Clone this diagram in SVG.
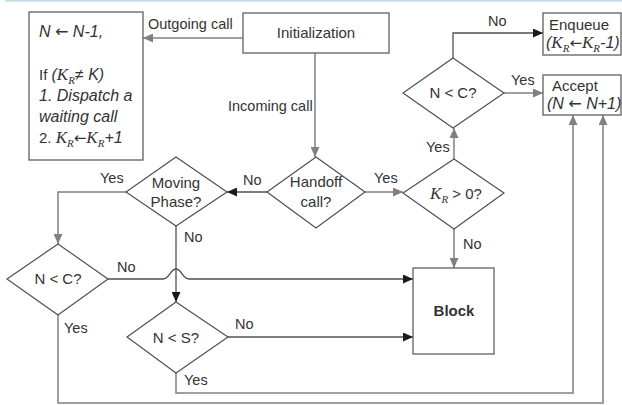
<svg xmlns="http://www.w3.org/2000/svg" width="622" height="405" viewBox="0 0 622 405">
  <defs>
    <style>
      .box { fill: #ffffff; stroke: #606060; stroke-width: 1.3; }
      .dia { fill: #ffffff; stroke: #505050; stroke-width: 1.2; }
      .g { fill: none; stroke: #808080; stroke-width: 1.5; marker-end: url(#ag); }
      .k { fill: none; stroke: #505050; stroke-width: 1.3; marker-end: url(#ak); }
      text { font-family: "Liberation Sans", Arial, sans-serif; fill: #333333; font-size: 15px; }
      .lbl { font-size: 14.5px; }
      .c { text-anchor: middle; }
      .it { font-style: italic; font-size: 16px; }
      .m { font-family: "Liberation Serif", "Times New Roman", serif; font-style: italic; font-size: 17px; }
      .ms { font-family: "Liberation Serif", "Times New Roman", serif; font-style: italic; font-size: 11px; }
      .ar { font-family: "DejaVu Sans", sans-serif; font-style: normal; }
      .b { font-weight: bold; }
    </style>
    <marker id="ag" markerUnits="userSpaceOnUse" markerWidth="10" markerHeight="9" refX="10" refY="4.5" orient="auto">
      <path d="M0,0 L10,4.5 L0,9 z" fill="#808080"/>
    </marker>
    <marker id="ak" markerUnits="userSpaceOnUse" markerWidth="10" markerHeight="9" refX="10" refY="4.5" orient="auto">
      <path d="M0,0 L10,4.5 L0,9 z" fill="#1a1a1a"/>
    </marker>
  </defs>

  <rect width="622" height="405" fill="#ffffff"/>
  <line x1="5" y1="0.8" x2="622" y2="0.8" stroke="#c6dcea" stroke-width="1.8"/>

  <!-- connectors -->
  <g id="connectors">
    <path class="g" d="M243,38 H143"/>
    <path class="g" d="M315,53 V157"/>
    <path class="k" d="M267,192 H227"/>
    <path class="g" d="M365,192 H403"/>
    <path class="g" d="M126,192 H58 V244"/>
    <path class="k" d="M176,226 V302"/>
    <path class="k" d="M108,279 H163 C170,279 170,269 176,269 C182,269 182,279 189,279 H413"/>
    <path class="k" d="M228,337 H413"/>
    <path class="g" d="M58,315 V403 H603 V115"/>
    <path class="g" d="M176,373 V393 H573 V115"/>
    <path class="g" d="M454,229 V268"/>
    <path class="g" d="M454,159 V128"/>
    <path class="k" d="M453,58 V33 H543"/>
    <path class="g" d="M504,93 H543"/>

    <text class="lbl" x="148" y="29">Outgoing call</text>
    <text class="lbl" x="228" y="111">Incoming call</text>
    <text class="lbl" x="243" y="185">No</text>
    <text class="lbl" x="100" y="183">Yes</text>
    <text class="lbl" x="374" y="183">Yes</text>
    <text class="lbl" x="117" y="272">No</text>
    <text class="lbl" x="184" y="242">No</text>
    <text class="lbl" x="64" y="333">Yes</text>
    <text class="lbl" x="235" y="329">No</text>
    <text class="lbl" x="184" y="385">Yes</text>
    <text class="lbl" x="463" y="249">No</text>
    <text class="lbl" x="426" y="152">Yes</text>
    <text class="lbl" x="488" y="26">No</text>
    <text class="lbl" x="511" y="85">Yes</text>
  </g>

  <g id="release">
    <rect class="box" x="29" y="12" width="114" height="148"/>
    <text class="it" x="39" y="37">N <tspan class="ar">←</tspan> N-1,</text>
    <text x="39" y="80" font-size="16">If <tspan class="it">(</tspan><tspan class="m">K</tspan><tspan class="ms" dy="4">R</tspan><tspan class="it" dy="-4">≠ K)</tspan></text>
    <text class="it" x="39" y="101">1. Dispatch a</text>
    <text class="it" x="39" y="122">waiting call</text>
    <text x="39" y="143" font-size="16">2. <tspan class="m">K</tspan><tspan class="ms" dy="4">R</tspan><tspan class="ar" dy="-4">←</tspan><tspan class="m">K</tspan><tspan class="ms" dy="4">R</tspan><tspan class="it" dy="-4">+1</tspan></text>
  </g>

  <g id="init">
    <rect class="box" x="243" y="13" width="146" height="40"/>
    <text class="c" x="316" y="38" font-size="16">Initialization</text>
  </g>

  <g id="handoff">
    <polygon class="dia" points="316,157 365,192 316,228 267,192"/>
    <text class="c" x="316" y="187">Handoff</text>
    <text class="c" x="316" y="207">call?</text>
  </g>

  <g id="moving">
    <polygon class="dia" points="176,157 227,192 176,226 126,192"/>
    <text class="c" x="176" y="188">Moving</text>
    <text class="c" x="176" y="207">Phase?</text>
  </g>

  <g id="check-c-left">
    <polygon class="dia" points="58,244 108,279 58,315 7,279"/>
    <text class="c" x="58" y="284">N &lt; C?</text>
  </g>

  <g id="check-s">
    <polygon class="dia" points="176,302 228,337 176,373 127,337"/>
    <text class="c" x="176" y="343">N &lt; S?</text>
  </g>

  <g id="check-kr">
    <polygon class="dia" points="454,159 504,193 454,229 403,193"/>
    <text class="c" x="456" y="199"><tspan class="m">K</tspan><tspan class="ms" dy="4">R</tspan><tspan dy="-4"> &gt; 0?</tspan></text>
  </g>

  <g id="check-c-right">
    <polygon class="dia" points="453,58 504,93 453,128 403,93"/>
    <text class="c" x="453" y="98">N &lt; C?</text>
  </g>

  <g id="block">
    <rect class="box" x="413" y="268" width="81" height="86"/>
    <text class="c b" x="454" y="316">Block</text>
  </g>

  <g id="enqueue">
    <rect class="box" x="543" y="13" width="78" height="42"/>
    <text x="549" y="30" font-size="15.5">Enqueue</text>
    <text x="546" y="48" font-size="15"><tspan class="it" font-size="15">(</tspan><tspan class="m" font-size="16">K</tspan><tspan class="ms" font-size="10" dy="4">R</tspan><tspan class="ar" dy="-4">←</tspan><tspan class="m" font-size="16">K</tspan><tspan class="ms" font-size="10" dy="4">R</tspan><tspan class="it" font-size="15" dy="-4">-1)</tspan></text>
  </g>

  <g id="accept">
    <rect class="box" x="543" y="75" width="78" height="40"/>
    <text x="552" y="91" font-size="15.5">Accept</text>
    <text class="it" x="547" y="109" font-size="15">(N <tspan class="ar">←</tspan> N+1)</text>
  </g>
</svg>
